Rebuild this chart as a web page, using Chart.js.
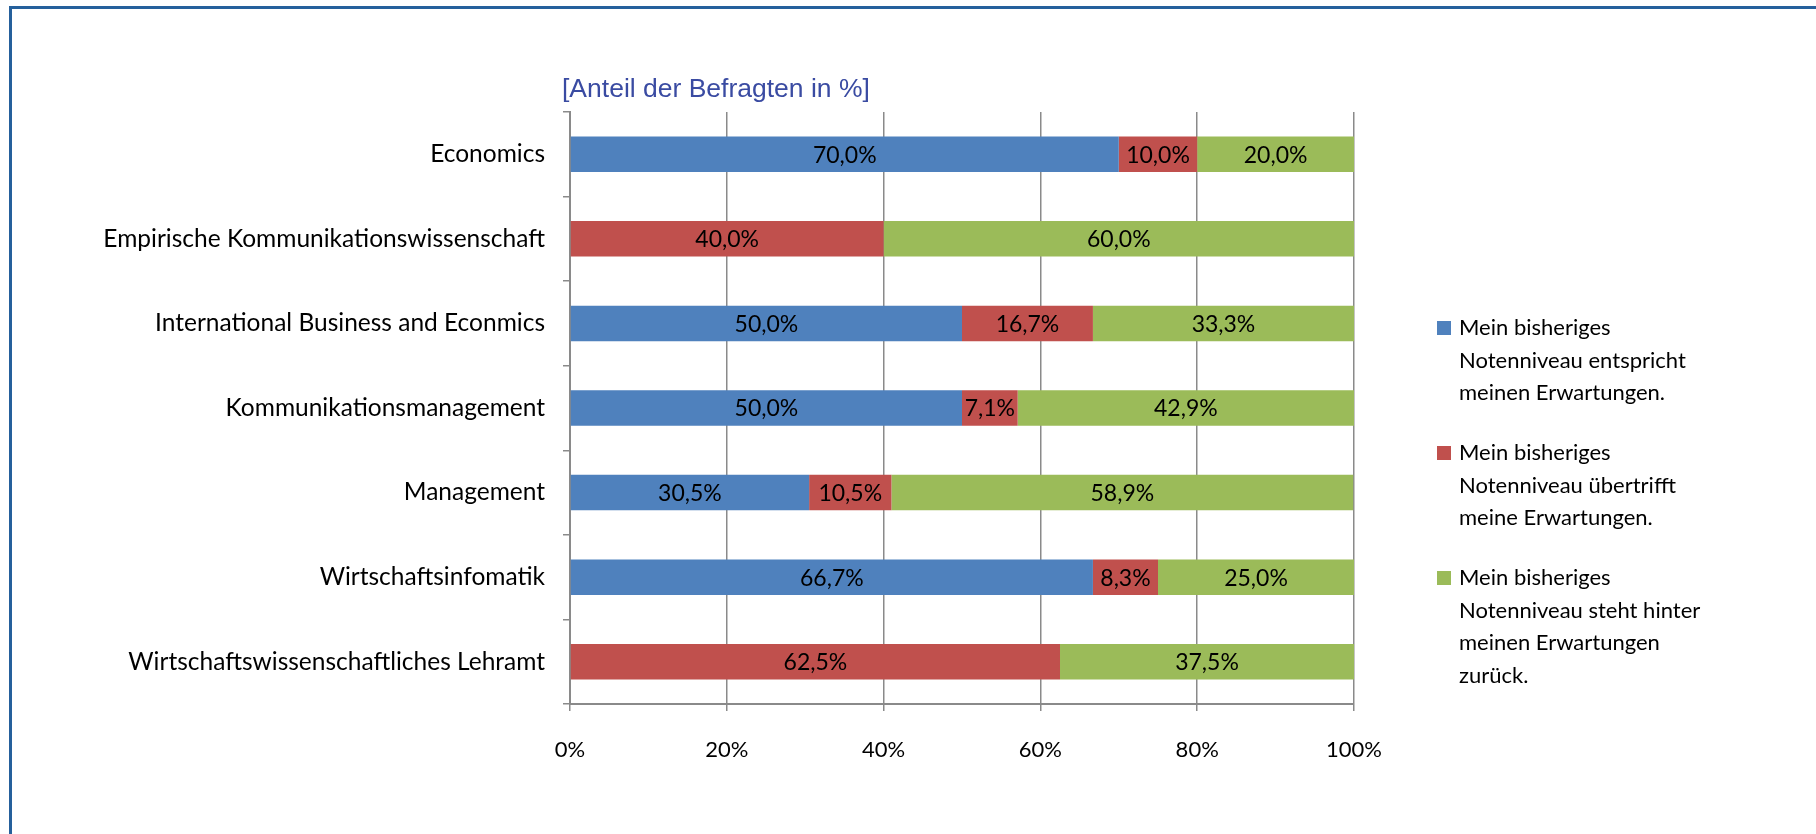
<!DOCTYPE html>
<html>
<head>
<meta charset="utf-8">
<script src="https://cdn.jsdelivr.net/npm/chart.js@4.4.1/dist/chart.umd.min.js"></script>
<style>
  html, body { margin: 0; padding: 0; background: #fff; }
  #wrap { position: relative; width: 1816px; height: 834px; }
</style>
</head>
<body>
<div id="wrap"><canvas id="gradesChart" width="1816" height="834"></canvas></div>
<script>
// Data
const studyPrograms = [
    'Economics',
    'Empirische Kommunikationswissenschaft',
    'International Business and Econmics',
    'Kommunikationsmanagement',
    'Management',
    'Wirtschaftsinfomatik',
    'Wirtschaftswissenschaftliches Lehramt'
];
const meetsExpectations   = [70.0, 0,    50.0, 50.0, 30.5, 66.7, 0];
const exceedsExpectations = [10.0, 40.0, 16.7, 7.1,  10.5, 8.3,  62.5];
const belowExpectations   = [20.0, 60.0, 33.3, 42.9, 58.9, 25.0, 37.5];
const xTicks = [0, 20, 40, 60, 80, 100];

const legendLines = [
    ['Mein bisheriges', 'Notenniveau entspricht', 'meinen Erwartungen.'],
    ['Mein bisheriges', 'Notenniveau übertrifft', 'meine Erwartungen.'],
    ['Mein bisheriges', 'Notenniveau steht hinter', 'meinen Erwartungen', 'zurück.']
];
const seriesColors = ['#4F81BD', '#C0504D', '#9BBB59'];
const chartTitle = '[Anteil der Befragten in %]';

const FONT = 'Lato, "Open Sans", sans-serif';
const AXIS_GRAY = '#8a8a8a';

function fmtPct(v) {
    return v.toFixed(1).replace('.', ',') + '%';
}

// frame + title
const framePlugin = {
    id: 'frame',
    beforeDraw(chart) {
        const ctx = chart.ctx;
        ctx.save();
        ctx.fillStyle = '#fff';
        ctx.fillRect(0, 0, chart.width, chart.height);
        ctx.strokeStyle = '#25609C';
        ctx.lineWidth = 3;
        ctx.beginPath();
        ctx.moveTo(10.5, chart.height);
        ctx.lineTo(10.5, 7.5);
        ctx.lineTo(chart.width, 7.5);
        ctx.stroke();
        ctx.restore();
    },
    afterDraw(chart) {
        const ctx = chart.ctx;
        ctx.save();
        ctx.font = '26.5px "Liberation Sans", Arial, sans-serif';
        ctx.fillStyle = '#3A4BA2';
        ctx.textBaseline = 'middle';
        ctx.textAlign = 'left';
        ctx.fillText(chartTitle, chart.chartArea.left - 8, chart.chartArea.top - 22);
        ctx.restore();
    }
};

// value labels centred in each segment
const valueLabels = {
    id: 'valueLabels',
    afterDatasetsDraw(chart) {
        const ctx = chart.ctx;
        ctx.save();
        ctx.font = '23px ' + FONT;
        ctx.fillStyle = '#000';
        ctx.textAlign = 'center';
        ctx.textBaseline = 'middle';
        chart.data.datasets.forEach((ds, i) => {
            const meta = chart.getDatasetMeta(i);
            meta.data.forEach((bar, j) => {
                const v = ds.data[j];
                if (!v) return;
                ctx.fillText(fmtPct(v), (bar.x + bar.base) / 2, bar.y + 1);
            });
        });
        ctx.restore();
    }
};

// multi-line legend on the right
const sideLegend = {
    id: 'sideLegend',
    afterDraw(chart) {
        const ctx = chart.ctx;
        const boxX = 1437, textX = 1459, lineH = 32.5;
        let y = 328;
        ctx.save();
        ctx.font = '22px ' + FONT;
        ctx.textBaseline = 'middle';
        ctx.textAlign = 'left';
        legendLines.forEach((lines, i) => {
            ctx.fillStyle = seriesColors[i];
            ctx.fillRect(boxX, y - 7, 14, 14);
            ctx.fillStyle = '#000';
            lines.forEach((line, k) => {
                ctx.fillText(line, textX, y + k * lineH);
            });
            y += 125;
        });
        ctx.restore();
    }
};

const ctx = document.getElementById('gradesChart');

new Chart(ctx, {
    type: 'bar',
    data: {
        labels: studyPrograms,
        datasets: [
            { label: legendLines[0].join(' '), data: meetsExpectations, backgroundColor: seriesColors[0] },
            { label: legendLines[1].join(' '), data: exceedsExpectations, backgroundColor: seriesColors[1] },
            { label: legendLines[2].join(' '), data: belowExpectations, backgroundColor: seriesColors[2] }
        ]
    },
    options: {
        indexAxis: 'y',
        responsive: false,
        animation: false,
        layout: {
            padding: { top: 112, right: 462, left: 0, bottom: 0 }
        },
        datasets: {
            bar: {
                categoryPercentage: 1,
                barPercentage: 0.42
            }
        },
        plugins: {
            legend: { display: false },
            title: { display: false },
            tooltip: { enabled: false }
        },
        scales: {
            x: {
                stacked: true,
                min: 0,
                max: 100,
                afterBuildTicks(scale) {
                    scale.ticks = xTicks.map(v => ({ value: v }));
                },
                afterFit(scale) {
                    scale.height = 130;
                },
                grid: {
                    color: AXIS_GRAY,
                    lineWidth: 1.5,
                    tickLength: 7
                },
                border: { color: AXIS_GRAY, width: 2 },
                ticks: {
                    padding: 26,
                    color: '#000',
                    font: { family: FONT, size: 22 },
                    callback: v => v + '%'
                }
            },
            y: {
                stacked: true,
                afterFit(scale) {
                    scale.width = 570;
                },
                grid: {
                    offset: true,
                    drawOnChartArea: false,
                    color: AXIS_GRAY,
                    lineWidth: 1.5,
                    tickLength: 7
                },
                border: { color: AXIS_GRAY, width: 2 },
                ticks: {
                    padding: 18,
                    color: '#000',
                    font: { family: FONT, size: 24.5 }
                }
            }
        }
    },
    plugins: [framePlugin, valueLabels, sideLegend]
});
</script>
</body>
</html>
